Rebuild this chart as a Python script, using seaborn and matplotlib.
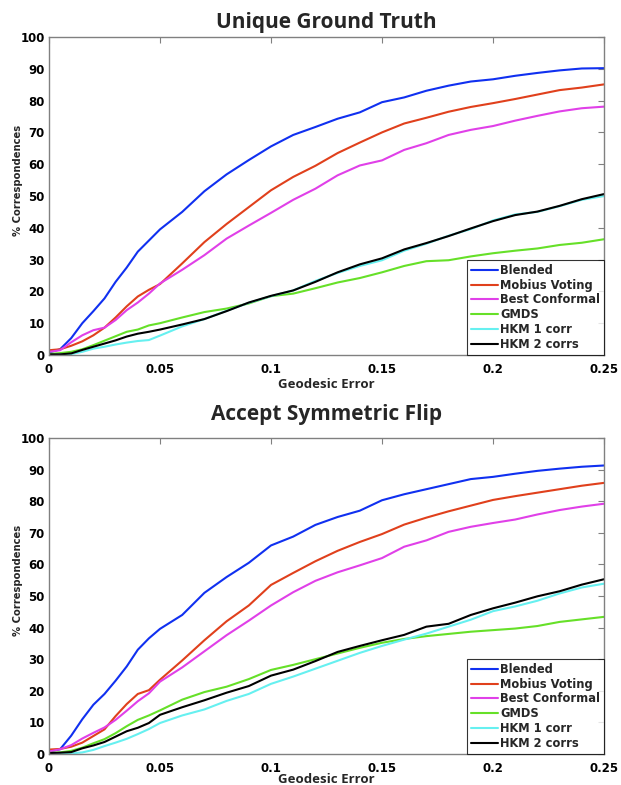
import matplotlib
matplotlib.use("Agg")
import matplotlib.pyplot as plt
import pandas as pd
import seaborn as sns

# geodesic error thresholds (shared by every curve)
error = [0, 0.005, 0.01, 0.015, 0.02, 0.025, 0.03, 0.035, 0.04, 0.045, 0.05,
         0.06, 0.07, 0.08, 0.09, 0.10, 0.11, 0.12, 0.13, 0.14, 0.15,
         0.16, 0.17, 0.18, 0.19, 0.20, 0.21, 0.22, 0.23, 0.24, 0.25]

methods = ["Blended", "Mobius Voting", "Best Conformal", "GMDS", "HKM 1 corr", "HKM 2 corrs"]
colors = ["#1030f0", "#e0401c", "#e040e8", "#66e028", "#66f0f0", "#000000"]

# --- Unique Ground Truth ---
unique_blended = [0.8, 1.8, 5.3, 10.0, 13.8, 17.8, 23.0, 27.5, 32.5, 36.0, 39.5,
                  45.0, 51.5, 56.8, 61.3, 65.6, 69.2, 71.7, 74.3, 76.3, 79.5,
                  81.0, 83.1, 84.7, 86.0, 86.7, 87.8, 88.7, 89.5, 90.1, 90.2]
unique_mobius = [1.5, 1.8, 2.9, 4.3, 6.2, 8.6, 11.8, 15.3, 18.4, 20.5, 22.3,
                 28.8, 35.5, 41.2, 46.5, 51.8, 56.0, 59.5, 63.5, 66.8, 70.0,
                 72.8, 74.6, 76.5, 78.0, 79.2, 80.5, 81.9, 83.3, 84.1, 85.1]
unique_conformal = [1.0, 1.5, 4.0, 6.2, 7.8, 8.6, 11.0, 14.1, 16.5, 19.3, 22.5,
                    26.8, 31.4, 36.6, 40.7, 44.7, 48.8, 52.3, 56.5, 59.6, 61.2,
                    64.5, 66.6, 69.2, 70.8, 72.0, 73.7, 75.2, 76.6, 77.6, 78.1]
unique_gmds = [0.3, 0.6, 1.0, 1.8, 3.1, 4.5, 5.9, 7.3, 8.0, 9.3, 10.0,
               11.8, 13.5, 14.6, 16.2, 18.5, 19.3, 21.0, 22.8, 24.2, 26.0,
               28.0, 29.5, 29.8, 31.0, 32.0, 32.8, 33.5, 34.6, 35.3, 36.4]
unique_hkm1 = [0.0, 0.1, 0.3, 1.0, 2.0, 2.6, 3.3, 3.9, 4.4, 4.7, 6.1,
               9.0, 11.3, 13.9, 16.4, 18.5, 20.3, 23.3, 25.8, 28.0, 29.8,
               32.8, 35.0, 37.5, 39.6, 42.3, 44.2, 45.0, 46.8, 48.8, 50.0]
unique_hkm2 = [0.2, 0.2, 0.5, 1.6, 2.6, 3.6, 4.6, 5.8, 6.7, 7.3, 8.0,
               9.6, 11.3, 13.8, 16.5, 18.6, 20.3, 23.0, 26.0, 28.5, 30.4,
               33.2, 35.2, 37.4, 39.8, 42.1, 44.0, 45.1, 46.9, 49.0, 50.6]

# --- Accept Symmetric Flip ---
flip_blended = [0.8, 1.5, 5.8, 11.0, 15.6, 19.0, 23.2, 27.7, 33.0, 36.6, 39.6,
                44.0, 51.0, 56.0, 60.5, 66.0, 68.8, 72.5, 75.0, 77.0, 80.3,
                82.2, 83.8, 85.4, 87.0, 87.7, 88.7, 89.6, 90.3, 90.9, 91.3]
flip_mobius = [1.4, 1.6, 2.3, 3.6, 5.7, 7.8, 12.0, 15.8, 19.0, 20.2, 23.5,
               29.6, 36.0, 42.0, 47.0, 53.5, 57.3, 61.0, 64.3, 67.1, 69.6,
               72.6, 74.8, 76.8, 78.6, 80.4, 81.6, 82.7, 83.8, 84.9, 85.8]
flip_conformal = [0.8, 1.5, 2.8, 4.9, 6.7, 8.4, 10.8, 13.7, 16.7, 19.2, 22.9,
                  27.4, 32.5, 37.6, 42.2, 47.0, 51.2, 54.8, 57.5, 59.7, 62.0,
                  65.6, 67.6, 70.3, 71.9, 73.1, 74.2, 75.8, 77.2, 78.3, 79.2]
flip_gmds = [0.3, 0.5, 1.0, 2.0, 3.4, 4.7, 6.6, 8.8, 10.8, 12.2, 13.8,
             17.2, 19.6, 21.3, 23.7, 26.6, 28.2, 30.0, 31.8, 33.6, 35.2,
             36.4, 37.3, 38.0, 38.7, 39.2, 39.7, 40.5, 41.8, 42.6, 43.4]
flip_hkm1 = [0.0, 0.1, 0.2, 0.5, 1.3, 2.5, 3.6, 4.8, 6.3, 7.9, 9.8,
             12.2, 14.1, 16.8, 19.0, 22.2, 24.5, 27.0, 29.5, 32.0, 34.2,
             36.2, 38.1, 40.3, 42.5, 45.2, 46.7, 48.5, 50.8, 52.7, 53.9]
flip_hkm2 = [0.3, 0.4, 0.6, 1.8, 2.7, 3.8, 5.5, 7.2, 8.3, 9.8, 12.4,
             14.8, 17.0, 19.4, 21.5, 24.8, 26.7, 29.4, 32.3, 34.2, 36.0,
             37.7, 40.3, 41.2, 44.0, 46.1, 47.9, 49.9, 51.5, 53.6, 55.3]

xticks = [0, 0.05, 0.1, 0.15, 0.2, 0.25]
xtick_labels = ["0", "0.05", "0.1", "0.15", "0.2", "0.25"]
yticks = list(range(0, 101, 10))

sns.set_theme(style="white")
plt.rcParams["font.family"] = ["DejaVu Sans"]

panels = [
    ("Unique Ground Truth",
     [unique_blended, unique_mobius, unique_conformal, unique_gmds, unique_hkm1, unique_hkm2]),
    ("Accept Symmetric Flip",
     [flip_blended, flip_mobius, flip_conformal, flip_gmds, flip_hkm1, flip_hkm2]),
]


def long_frame(series):
    frames = []
    for name, values in zip(methods, series):
        frames.append(pd.DataFrame({"error": error, "pct": values, "method": name}))
    return pd.concat(frames, ignore_index=True)


fig = plt.figure(figsize=(6.21, 7.85), dpi=100)
axes_rects = [
    [49 / 621, 1 - 355 / 785, 555 / 621, 318 / 785],
    [49 / 621, 1 - 754 / 785, 555 / 621, 316 / 785],
]
title_pads = [6.5, 13]
xlabel_y = [-0.092, -0.082]

grey = "#808080"
for i, (rect, (title, series)) in enumerate(zip(axes_rects, panels)):
    ax = fig.add_axes(rect)
    df = long_frame(series)
    sns.lineplot(data=df, x="error", y="pct", hue="method", hue_order=methods,
                 palette=colors, linewidth=1.5, ax=ax, legend=True)

    ax.set_xlim(0, 0.25)
    ax.set_ylim(0, 100)
    ax.set_xticks(xticks)
    ax.set_xticklabels(xtick_labels)
    ax.set_yticks(yticks)
    ax.tick_params(direction="in", length=4, width=0.8, color=grey,
                   top=True, right=True, labelsize=8.5, labelcolor="black")
    ax.tick_params(axis="x", pad=6)
    ax.tick_params(axis="y", pad=3)
    for lab in ax.get_xticklabels() + ax.get_yticklabels():
        lab.set_fontweight("bold")
    for spine in ax.spines.values():
        spine.set_color(grey)
        spine.set_linewidth(1.0)

    ax.set_title(title, fontsize=15, fontweight="bold",
                 family=["Open Sans", "DejaVu Sans"], pad=title_pads[i])
    ax.set_xlabel("Geodesic Error", fontsize=9.5, fontweight="bold",
                  family=["Open Sans", "DejaVu Sans"], va="center")
    ax.xaxis.set_label_coords(0.5, xlabel_y[i])
    ax.set_ylabel("% Correspondences", fontsize=7.2, fontweight="bold")
    ax.yaxis.set_label_coords(-0.047, 0.55)

    leg = ax.legend(loc="lower right", borderaxespad=0, fancybox=False,
                    frameon=True, handlelength=2.4, handletextpad=0.15,
                    labelspacing=0.16, borderpad=0.35,
                    prop={"weight": "bold", "size": 8.3})
    leg.get_frame().set_edgecolor("black")
    leg.get_frame().set_linewidth(0.8)
    for line in leg.get_lines():
        line.set_linewidth(1.5)

fig.savefig("out.png", dpi=100)
